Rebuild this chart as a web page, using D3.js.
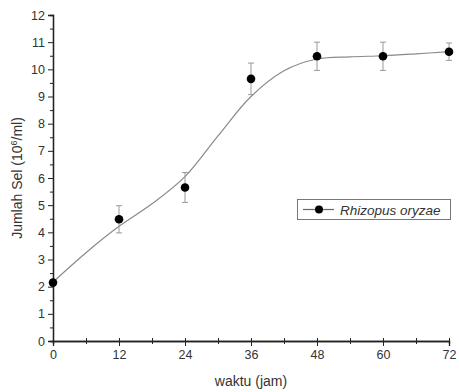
<!DOCTYPE html>
<html>
<head>
<meta charset="UTF-8">
<script src="https://d3js.org/d3.v7.min.js"></script>
<style>
  body { margin: 0; background: #fff; }
  svg { font-family: 'Liberation Sans', Arial, sans-serif; }
</style>
</head>
<body>
<svg id="chart" width="459" height="392"></svg>
<script>
  // measured points (hours, cells 10^6/ml) and error
  const hours = [0, 12, 24, 36, 48, 60, 72];
  const cells = [2.15, 4.48, 5.65, 9.65, 10.48, 10.48, 10.65];
  const errs = [0, 0.5, 0.55, 0.58, 0.52, 0.52, 0.32];
  // fitted curve
  const fitHours = [0, 6, 12, 18, 24, 30, 36, 42, 48, 54, 60, 66, 72];
  const fitCells = [2.17, 3.25, 4.22, 5.05, 6.05, 7.55, 9.0, 9.95, 10.38, 10.46, 10.5, 10.57, 10.65];
  const xTicks = [0, 12, 24, 36, 48, 60, 72];
  const yTicks = d3.range(0, 13);

  const svg = d3.select('#chart');
  const m = {left: 53, right: 10, top: 15, bottom: 51};

  const x = d3.scaleLinear().domain([0, 72]).range([m.left, 449]);
  const y = d3.scaleLinear().domain([0, 12]).range([341, 15]);

  const axisCol = '#222';
  const font = "'Liberation Sans', Arial, sans-serif";

  // y axis
  const gy = svg.append('g').attr('transform', `translate(${m.left},0)`);
  gy.call(d3.axisLeft(y).tickValues(yTicks).tickSize(5).tickPadding(3).tickFormat(d3.format('d')));
  gy.append('g').call(d3.axisLeft(y).tickValues(d3.range(0.5, 12, 1)).tickSize(3).tickFormat(''));
  gy.selectAll('.domain').attr('stroke', axisCol).attr('stroke-width', 1.3);
  gy.selectAll('line').attr('stroke', axisCol);
  gy.selectAll('text').attr('font-size', 12.5).attr('fill', '#333').attr('font-family', font);

  // x axis
  const gx = svg.append('g').attr('transform', `translate(0,341)`);
  gx.call(d3.axisBottom(x).tickValues(xTicks).tickSize(5).tickPadding(4).tickFormat(d3.format('d')));
  gx.append('g').call(d3.axisBottom(x).tickValues(d3.range(6, 72, 12)).tickSize(3).tickFormat(''));
  gx.selectAll('.tick line').attr('y1', -3);
  gx.selectAll('.domain').attr('stroke', axisCol).attr('stroke-width', 1.3);
  gx.selectAll('line').attr('stroke', axisCol);
  gx.selectAll('text').attr('font-size', 12.5).attr('fill', '#333').attr('font-family', font);

  // labels
  svg.append('text')
    .attr('transform', `translate(22,${y(6)}) rotate(-90)`)
    .attr('text-anchor', 'middle')
    .attr('font-size', 14).attr('fill', '#333')
    .html('Jumlah Sel (10<tspan baseline-shift="super" font-size="9">6</tspan>/ml)');
  svg.append('text')
    .attr('x', x(36)).attr('y', 386)
    .attr('text-anchor', 'middle')
    .attr('font-size', 14).attr('fill', '#333')
    .text('waktu (jam)');

  // fitted curve
  const line = d3.line().x((d, i) => x(fitHours[i])).y(d => y(d)).curve(d3.curveCatmullRom.alpha(0.5));
  svg.append('path').datum(fitCells)
    .attr('d', line)
    .attr('fill', 'none').attr('stroke', '#8a8a8a').attr('stroke-width', 1.2);

  // error bars
  const pts = hours.map((h, i) => ({h, v: cells[i], e: errs[i]}));
  const eb = svg.append('g').attr('stroke', '#999').attr('stroke-width', 1);
  pts.filter(d => d.e > 0).forEach(d => {
    eb.append('line').attr('x1', x(d.h)).attr('x2', x(d.h)).attr('y1', y(d.v - d.e)).attr('y2', y(d.v + d.e));
    [d.v - d.e, d.v + d.e].forEach(v => {
      eb.append('line').attr('x1', x(d.h) - 3).attr('x2', x(d.h) + 3).attr('y1', y(v)).attr('y2', y(v));
    });
  });

  // markers
  svg.append('g').selectAll('circle').data(pts).join('circle')
    .attr('cx', d => x(d.h)).attr('cy', d => y(d.v)).attr('r', 4.3)
    .attr('fill', '#000');

  // legend
  const lg = svg.append('g');
  lg.append('rect').attr('x', 297.5).attr('y', 199.5).attr('width', 153).attr('height', 20)
    .attr('fill', '#fff').attr('stroke', '#777').attr('stroke-width', 1);
  lg.append('line').attr('x1', 303).attr('x2', 334).attr('y1', 209.5).attr('y2', 209.5)
    .attr('stroke', '#666').attr('stroke-width', 1.2);
  lg.append('circle').attr('cx', 319).attr('cy', 209.5).attr('r', 4).attr('fill', '#000');
  lg.append('text').attr('x', 340).attr('y', 214.5).attr('font-size', 13.5)
    .attr('font-style', 'italic').attr('fill', '#333').text('Rhizopus oryzae');
</script>
</body>
</html>
